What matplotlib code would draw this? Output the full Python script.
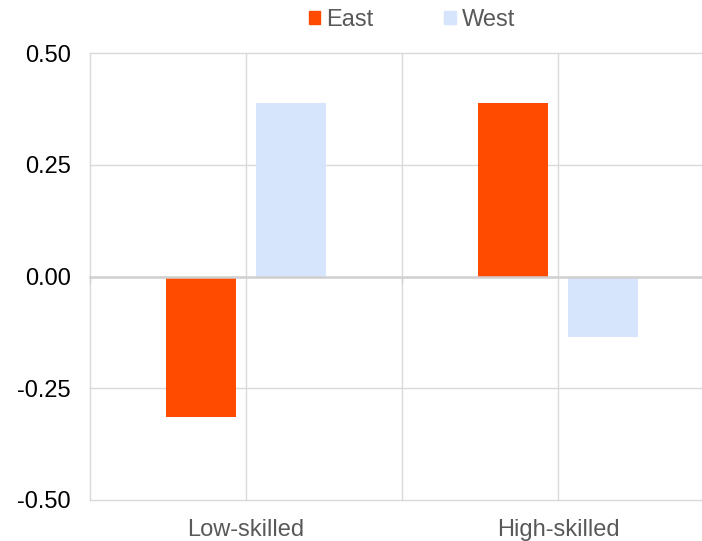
import numpy as np
import matplotlib.pyplot as plt
from matplotlib.patches import Patch

categories = ["Low-skilled", "High-skilled"]
east = [-0.315, 0.388]
west = [0.389, -0.136]
yticks = [-0.5, -0.25, 0.0, 0.25, 0.5]

plt.rcParams['font.family'] = ['Liberation Sans', 'DejaVu Sans']

grid_col = "#d9d9d9"
east_col = "#ff4b00"
west_col = "#d6e4fc"

fig = plt.figure(figsize=(7.02, 5.41), dpi=100)
ax = fig.add_axes([90/702, 1-500/541, 624/702, 447/541])

x = np.arange(len(categories))
w = 0.224
off = 0.143
ax.bar(x - off, east, w, color=east_col, zorder=3)
ax.bar(x + off, west, w, color=west_col, zorder=3)

ax.set_xlim(-0.5, 1.5)
ax.set_ylim(-0.5, 0.5)
ax.set_yticks(yticks)
ax.set_yticklabels(["%.2f" % v for v in yticks], fontsize=17, color="black")
ax.tick_params(axis='y', length=0, pad=14)

# grid
for v in yticks:
    ax.axhline(v, color=grid_col, lw=1, zorder=1, clip_on=False)
for v in [-0.5, 0, 0.5, 1.0, 1.5]:
    ax.axvline(v, color=grid_col, lw=1, zorder=1, clip_on=False)

for s in ['top', 'right', 'left']:
    ax.spines[s].set_visible(False)
ax.spines['bottom'].set_position(('data', 0))
ax.spines['bottom'].set_color("#d0d0d0")
ax.spines['bottom'].set_linewidth(1.8)
ax.spines['bottom'].set_zorder(4)
ax.set_xticks([-0.5, 0.5, 1.5])
ax.tick_params(axis='x', length=4, width=1, color="#d0d0d0", labelbottom=False)

sec = ax.secondary_xaxis('bottom')
sec.set_xticks(x)
sec.set_xticklabels(categories, fontsize=17, color="#595959")
sec.tick_params(length=0, pad=14)
sec.spines['bottom'].set_visible(False)

handles = [Patch(color=east_col, label="East"), Patch(color=west_col, label="West")]
fig.legend(handles=handles, loc='center', bbox_to_anchor=(412/702, 1-20/541), ncol=2,
           frameon=False, fontsize=17, labelcolor="#595959", handlelength=0.5,
           handleheight=0.5, handletextpad=0.25, columnspacing=3.0)

fig.savefig("out.png", dpi=100)
